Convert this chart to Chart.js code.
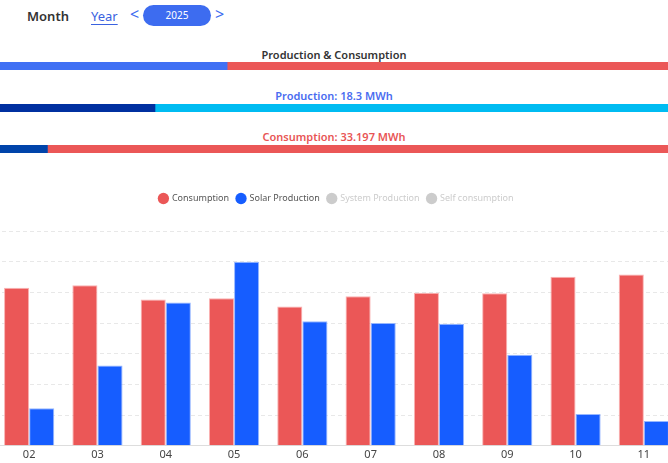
<!DOCTYPE html>
<html>
<head>
<meta charset="utf-8">
<script src="https://cdn.jsdelivr.net/npm/chart.js@4"></script>
<style>
  body { margin: 0; width: 668px; height: 463px; overflow: hidden; background: #fff; font-family: "Noto Sans", sans-serif; position: relative; }
  .hdr { position: absolute; top: 0; left: 0; height: 32px; width: 100%; }
  .month { position: absolute; left: 27px; top: 7px; font-size: 13px; font-weight: 600; color: #333; }
  .year { position: absolute; left: 91px; top: 7px; font-size: 13px; color: #3a62e0; text-decoration: underline; text-underline-offset: 3px; }
  .arrow { position: absolute; top: 4px; font-size: 16px; color: #3d6cf0; line-height: 20px; }
  .pill { position: absolute; left: 143px; top: 5px; width: 68px; height: 21px; border-radius: 11px; background: #3d6cf0; color: #fff; font-size: 10px; text-align: center; line-height: 21px; }
  .ttl { position: absolute; left: 0; width: 100%; text-align: center; font-size: 11px; font-weight: 600; }
  .bar { position: absolute; left: 0; width: 668px; height: 8px; }
  #mainWrap { position: absolute; left: -5px; top: 186px; width: 683px; height: 277px; }
</style>
</head>
<body>
<div class="hdr">
  <span class="month">Month</span>
  <span class="year">Year</span>
  <span class="arrow" style="left:130px">&lt;</span>
  <span class="pill">2025</span>
  <span class="arrow" style="left:215px">&gt;</span>
</div>

<div class="ttl" style="top:47px;color:#333">Production &amp; Consumption</div>
<div class="bar" style="top:62px"><canvas id="barTotal"></canvas></div>
<div class="ttl" style="top:88px;color:#4a6cf0">Production: 18.3 MWh</div>
<div class="bar" style="top:104px"><canvas id="barProd"></canvas></div>
<div class="ttl" style="top:129px;color:#e85555">Consumption: 33.197 MWh</div>
<div class="bar" style="top:145px"><canvas id="barCons"></canvas></div>

<div id="mainWrap"><canvas id="monthChart"></canvas></div>

<script>
// progress bars (percent shares)
const totalSplit = [34, 66];
const prodSplit = [23.2, 76.8];
const consSplit = [7.1, 92.9];

// monthly values, kWh
const months = ["02", "03", "04", "05", "06", "07", "08", "09", "10", "11"];
const consumption = [2575, 2615, 2385, 2405, 2270, 2435, 2495, 2485, 2755, 2790];
const solarProduction = [610, 1310, 2335, 3000, 2030, 2000, 1990, 1485, 520, 405];
const systemProduction = [0, 0, 0, 0, 0, 0, 0, 0, 0, 0];
const selfConsumption = [0, 0, 0, 0, 0, 0, 0, 0, 0, 0];

function progressBar(id, split, colors) {
  new Chart(document.getElementById(id), {
    type: "bar",
    data: {
      labels: [""],
      datasets: split.map((v, i) => ({
        data: [v], backgroundColor: colors[i], borderWidth: 0,
        barPercentage: 1, categoryPercentage: 1
      }))
    },
    options: {
      indexAxis: "y", responsive: true, maintainAspectRatio: false, animation: false,
      layout: { padding: 0 },
      plugins: { legend: { display: false }, tooltip: { enabled: false } },
      scales: {
        x: { stacked: true, min: 0, max: 100, display: false },
        y: { stacked: true, display: false }
      }
    }
  });
}
progressBar("barTotal", totalSplit, ["#4070f4", "#eb5757"]);
progressBar("barProd", prodSplit, ["#0030a0", "#00bcf2"]);
progressBar("barCons", consSplit, ["#0044aa", "#eb5757"]);

// extra room under the legend
const legendGap = {
  id: "legendGap",
  beforeInit(chart) {
    const fit = chart.legend.fit;
    chart.legend.fit = function () {
      fit.bind(chart.legend)();
      this.height += 18;
    };
  }
};

const grey = "#cccccc";
new Chart(document.getElementById("monthChart"), {
  type: "bar",
  plugins: [legendGap],
  data: {
    labels: months,
    datasets: [
      { label: "Consumption", data: consumption, backgroundColor: "#eb5757", borderColor: "rgba(250,170,170,0.9)", borderWidth: 1 },
      { label: "Solar Production", data: solarProduction, backgroundColor: "#165dff", borderColor: "rgba(140,175,255,0.9)", borderWidth: 1 },
      { label: "System Production", data: systemProduction, backgroundColor: grey, hidden: true },
      { label: "Self consumption", data: selfConsumption, backgroundColor: grey, hidden: true }
    ]
  },
  options: {
    responsive: true, maintainAspectRatio: false, animation: false,
    layout: { padding: 0 },
    datasets: { bar: { categoryPercentage: 0.735, barPercentage: 1 } },
    plugins: {
      tooltip: { enabled: false },
      legend: {
        labels: {
          usePointStyle: true, pointStyle: "circle", boxWidth: 8, boxHeight: 8, padding: 8,
          font: { size: 9, family: "Noto Sans" }, color: "#555",
          generateLabels: (chart) => chart.data.datasets.map((ds, i) => {
            const off = !chart.isDatasetVisible(i);
            return {
              text: ds.label, datasetIndex: i, hidden: false, pointStyle: "circle",
              fillStyle: off ? grey : ds.backgroundColor, strokeStyle: off ? grey : ds.backgroundColor,
              lineWidth: 0, fontColor: off ? grey : "#555"
            };
          })
        }
      }
    },
    scales: {
      x: {
        grid: { display: false, drawTicks: false },
        border: { color: "#dddddd" },
        ticks: { color: "#444", font: { size: 11, family: "Noto Sans" }, padding: 2 }
      },
      y: {
        min: 0, max: 3500,
        ticks: { display: false, stepSize: 500 },
        border: { display: false, dash: [4, 3] },
        grid: { color: "#e8e8e8", drawTicks: false }
      }
    }
  }
});
</script>
</body>
</html>
